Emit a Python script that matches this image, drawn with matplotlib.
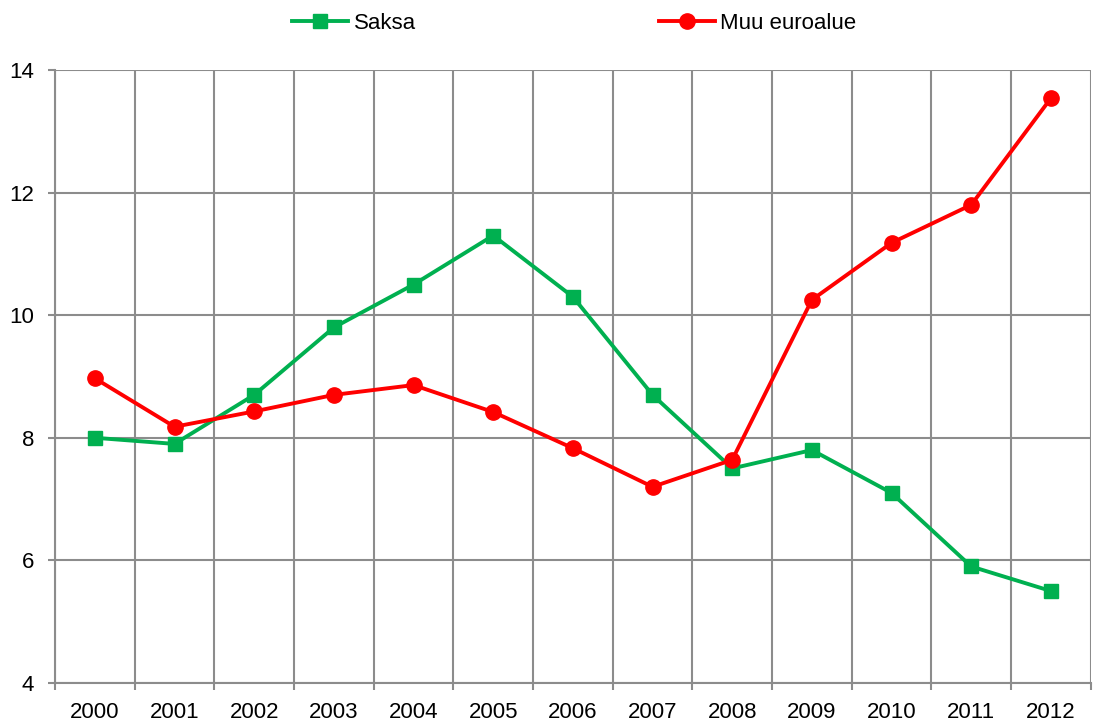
import matplotlib.pyplot as plt

# Data
years = ['2000', '2001', '2002', '2003', '2004', '2005', '2006',
         '2007', '2008', '2009', '2010', '2011', '2012']
saksa = [8.0, 7.9, 8.7, 9.8, 10.5, 11.3, 10.3, 8.7, 7.5, 7.8, 7.1, 5.9, 5.5]
muu_euroalue = [8.97, 8.18, 8.43, 8.7, 8.86, 8.42, 7.83, 7.2, 7.64, 10.25, 11.18, 11.8, 13.54]
y_ticks = [4, 6, 8, 10, 12, 14]

plt.rcParams['font.family'] = ['Liberation Sans', 'DejaVu Sans']
grid_col = '#8c8c8c'

fig = plt.figure(figsize=(10.94, 7.25), dpi=100)
ax = fig.add_axes([0.0503, 0.058, 0.9467, 0.8454])

x = list(range(len(years)))
ax.plot(x, saksa, color='#00b050', lw=2.8, marker='s', ms=10, label='Saksa')
ax.plot(x, muu_euroalue, color='#ff0000', lw=2.8, marker='o', ms=11, label='Muu euroalue')

ax.set_xlim(-0.5, len(years) - 0.5)
ax.set_ylim(4, 14)
ax.set_yticks(y_ticks)
ax.set_xticks(x)
ax.set_xticklabels(years)
ax.set_xticks([i - 0.5 for i in range(len(years) + 1)], minor=True)

ax.grid(True, which='major', axis='y', color=grid_col, lw=1.5)
ax.grid(True, which='minor', axis='x', color=grid_col, lw=1.5)
ax.set_axisbelow(True)

for side in ['top', 'right']:
    ax.spines[side].set_visible(False)
for side in ['left', 'bottom']:
    ax.spines[side].set_color(grid_col)
    ax.spines[side].set_linewidth(1.5)

ax.tick_params(axis='x', which='major', length=0, labelsize=16, pad=14)
ax.tick_params(axis='x', which='minor', length=5, color=grid_col, width=1.5)
ax.tick_params(axis='y', length=5, color=grid_col, width=1.5, labelsize=16, pad=10)

fig.legend(loc='upper center', bbox_to_anchor=(0.525, 1.01), ncol=2, frameon=False,
           fontsize=16, handlelength=2.5, columnspacing=10.95, handletextpad=0.25)

fig.savefig('out.png', dpi=100)
